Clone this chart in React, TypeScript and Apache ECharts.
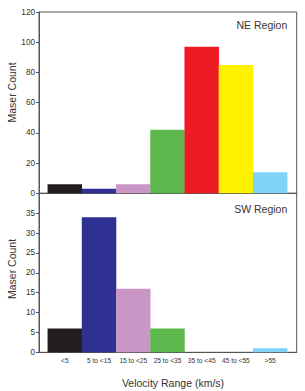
import React, { useEffect, useRef } from "react";
import * as echarts from "echarts";

const categories = ["<5", "5 to <15", "15 to <25", "25 to <35", "35 to <45", "45 to <55", ">55"];
const neCounts = [6, 3, 6, 42, 97, 85, 14];
const swCounts = [6, 34, 16, 6, 0, 0, 1];
const barColors = ["#231f20", "#2e3192", "#c996c6", "#5cb84c", "#ed1c24", "#fff200", "#7fd3f7"];
const neTicks = { min: 0, max: 120, interval: 20 };
const swTicks = { min: 0, max: 40, interval: 5 };

const FONT = "'Liberation Sans', Arial, sans-serif";
const AXIS_COLOR = "#555555";
const TEXT_COLOR = "#333333";

export default function App() {
  const ref = useRef<HTMLDivElement>(null);
  useEffect(() => {
    if (!ref.current) return;
    const chart = echarts.init(ref.current, undefined, { renderer: "svg" });
    const idx = categories.map((_, i) => i);
    const xBase = (gridIndex: number, showLabels: boolean) => ({
      type: "value" as const,
      gridIndex,
      min: -0.754,
      max: 6.775,
      position: "bottom" as const,
      axisLine: { show: true, onZero: false, lineStyle: { color: AXIS_COLOR, width: 1 } },
      axisTick: { show: false, customValues: idx },
      splitLine: { show: false },
      axisLabel: {
        show: showLabels,
        customValues: idx,
        formatter: (v: number) => categories[Math.round(v)] ?? "",
        fontSize: 6.6,
        color: TEXT_COLOR,
        fontFamily: FONT,
        margin: 5,
      },
    });
    const yBase = (gridIndex: number, t: { min: number; max: number; interval: number }) => ({
      type: "value" as const,
      gridIndex,
      min: t.min,
      max: t.max,
      interval: t.interval,
      position: "left" as const,
      axisLine: { show: true, onZero: false, lineStyle: { color: AXIS_COLOR, width: 1 } },
      axisTick: { show: true, length: 3, lineStyle: { color: AXIS_COLOR } },
      splitLine: { show: false },
      axisLabel: {
        fontSize: 8.2,
        color: TEXT_COLOR,
        fontFamily: FONT,
        margin: 4,
        showMaxLabel: gridIndex === 0,
      },
    });
    const barSeries = (i: number, values: number[]) => ({
      type: "bar" as const,
      xAxisIndex: i,
      yAxisIndex: i,
      barWidth: 34.5,
      data: values.map((v, k) => ({ value: [k, v], itemStyle: { color: barColors[k] } })),
    });
    chart.setOption({
      animation: false,
      backgroundColor: "#ffffff",
      grid: [
        { left: 39, top: 12, width: 257.7, height: 181.3, show: true, borderColor: AXIS_COLOR, borderWidth: 1, backgroundColor: "transparent" },
        { left: 39, top: 193.3, width: 257.7, height: 159, show: true, borderColor: AXIS_COLOR, borderWidth: 1, backgroundColor: "transparent" },
      ],
      xAxis: [xBase(0, false), xBase(1, true)],
      yAxis: [yBase(0, neTicks), yBase(1, swTicks)],
      series: [barSeries(0, neCounts), barSeries(1, swCounts)],
      graphic: [
        { type: "text", x: 12, y: 92.5, rotation: Math.PI / 2, style: { text: "Maser Count", fontSize: 10.5, fontFamily: FONT, fill: TEXT_COLOR, align: "center", verticalAlign: "middle" } },
        { type: "text", x: 12, y: 269, rotation: Math.PI / 2, style: { text: "Maser Count", fontSize: 10.5, fontFamily: FONT, fill: TEXT_COLOR, align: "center", verticalAlign: "middle" } },
        { type: "text", x: 287.3, y: 25, style: { text: "NE Region", fontSize: 10.5, fontFamily: FONT, fill: TEXT_COLOR, align: "right", verticalAlign: "middle" } },
        { type: "text", x: 287.3, y: 209.3, style: { text: "SW Region", fontSize: 10.5, fontFamily: FONT, fill: TEXT_COLOR, align: "right", verticalAlign: "middle" } },
        { type: "text", x: 173, y: 383, style: { text: "Velocity Range (km/s)", fontSize: 10.5, fontFamily: FONT, fill: TEXT_COLOR, align: "center", verticalAlign: "middle" } },
      ],
    });
    return () => chart.dispose();
  }, []);
  return <div ref={ref} style={{ position: "fixed", left: 0, top: 0, width: 305, height: 391 }} />;
}
